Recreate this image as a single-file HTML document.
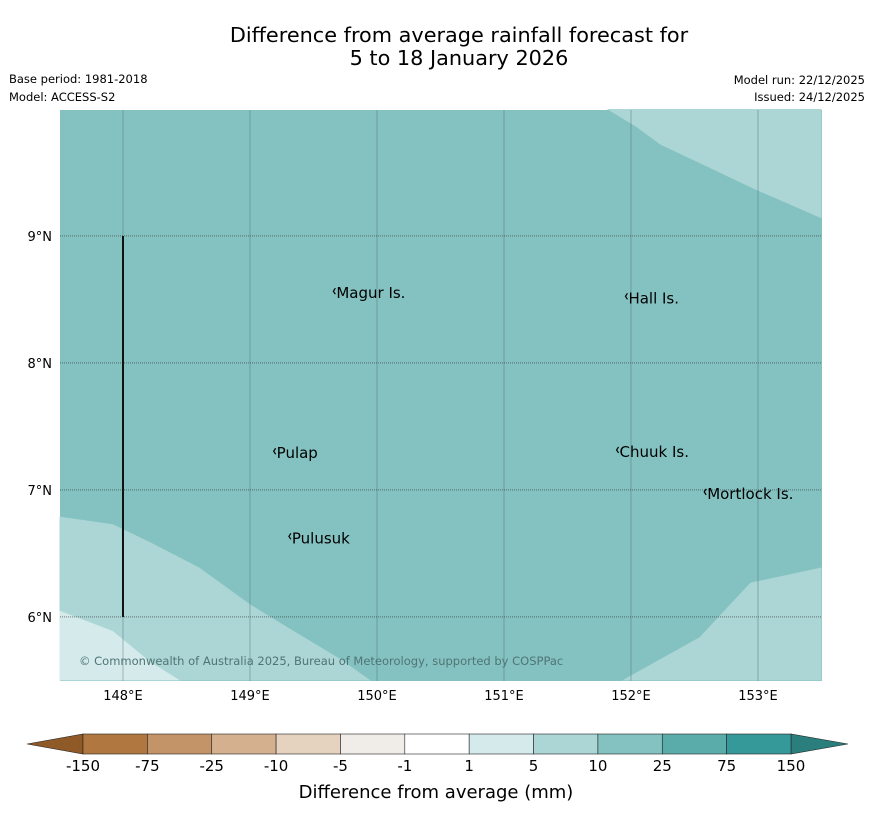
<!DOCTYPE html>
<html><head><meta charset="utf-8"><style>
body{margin:0;background:#fff;font-family:"Liberation Sans","DejaVu Sans",sans-serif;}
svg text{font-family:"DejaVu Sans","Liberation Sans",sans-serif;}
</style></head><body>
<svg id="c" width="873" height="816" viewBox="0 0 873 816" xmlns="http://www.w3.org/2000/svg">
<rect width="873" height="816" fill="#fff"/>
<text x="459" y="42" text-anchor="middle" font-size="20.8">Difference from average rainfall forecast for</text>
<text x="459" y="65" text-anchor="middle" font-size="20.8">5 to 18 January 2026</text>
<text x="9" y="83" font-size="11.5">Base period: 1981-2018</text>
<text x="9" y="101" font-size="11.5">Model: ACCESS-S2</text>
<text x="865" y="84" font-size="11.5" text-anchor="end">Model run: 22/12/2025</text>
<text x="865" y="101" font-size="11.5" text-anchor="end">Issued: 24/12/2025</text>
<g id="map"></g>
<g id="cb"></g>
<text x="436" y="798" text-anchor="middle" font-size="18">Difference from average (mm)</text>
</svg>
<script>
const lonTicks=[148,149,150,151,152,153];
const latTicks=[9,8,7,6];
const places=["Magur Is.","Hall Is.","Pulap","Chuuk Is.","Mortlock Is.","Pulusuk"];
const placeLon=[149.68,151.98,149.21,151.91,152.6,149.33];
const placeLat=[8.51,8.47,7.25,7.26,6.93,6.58];
const cbLabels=["-150","-75","-25","-10","-5","-1","1","5","10","25","75","150"];
const cbColors=["#b07840","#c29468","#d4b08f","#e5d2bf","#f0ece7","#ffffff","#d5eaea","#acd5d5","#84c2c1","#5aacaa","#35999a"];
const zoneLowLeft=[[147.5,6.79],[147.92,6.73],[148.21,6.59],[148.6,6.39],[149,6.1],[149.31,5.91],[149.71,5.67],[149.95,5.5],[147.5,5.5]];
const zoneLowest=[[147.5,6.05],[147.92,5.89],[148.21,5.65],[148.45,5.5],[147.5,5.5]];
const zoneTopRight=[[151.81,10],[152.04,9.86],[152.23,9.72],[152.57,9.56],[152.97,9.37],[153.5,9.14],[153.5,10]];
const zoneBotRight=[[151.93,5.5],[152.54,5.84],[152.94,6.27],[153.5,6.39],[153.5,5.5]];
const NS="http://www.w3.org/2000/svg";
const X0=60,X1=822,Y0=110,Y1=681,LON0=147.504,LAT0=9.992,K=127;
const xs=l=>X0+(l-LON0)*K, ys=l=>Y0+(LAT0-l)*K;
function mk(t,a,p){const e=document.createElementNS(NS,t);for(const k in a)e.setAttribute(k,a[k]);p.appendChild(e);return e;}
const map=document.getElementById('map');
const bg=mk('rect',{x:X0,y:Y0,width:X1-X0,height:Y1-Y0,fill:'#84c2c1'},map);


function zone(pts,col,name){const p=mk('polygon',{points:pts.map(q=>xs(q[0])+','+ys(q[1])).join(' '),fill:col},map);

}
zone(zoneLowLeft,'#acd5d5','zone-5-10-southwest');
zone(zoneLowest,'#d5eaea','zone-1-5-southwest');
zone(zoneTopRight,'#acd5d5','zone-5-10-northeast');
zone(zoneBotRight,'#acd5d5','zone-5-10-southeast');
lonTicks.forEach(l=>{const x=xs(l);
const g=mk('line',{x1:x,x2:x,y1:Y0,y2:Y1,stroke:'#4a6a6a','stroke-width':0.6,'stroke-opacity':0.7},map);


const t=mk('text',{x:x,y:700,'text-anchor':'middle','font-size':13},map);t.textContent=l+'°E';

});
latTicks.forEach(l=>{const y=ys(l);
const g=mk('line',{x1:X0,x2:X1,y1:y,y2:y,stroke:'#333','stroke-width':0.6,'stroke-dasharray':'1,1'},map);


const t=mk('text',{x:52,y:y+5,'text-anchor':'end','font-size':13},map);t.textContent=l+'°N';

});
const bl=mk('line',{x1:xs(148),x2:xs(148),y1:ys(9),y2:ys(6),stroke:'#111','stroke-width':2},map);


places.forEach((n,i)=>{const x=xs(placeLon[i]),y=ys(placeLat[i]);
const d=mk('path',{d:`M${x-1} ${y-10} l-2 3 l2 3`,stroke:'#000',fill:'none','stroke-width':1.2},map);


const t=mk('text',{x:x,y:y,'font-size':15},map);t.textContent=n;

});
const cr=mk('text',{x:79,y:665,'font-size':11.5,fill:'#4f7574'},map);cr.textContent='© Commonwealth of Australia 2025, Bureau of Meteorology, supported by COSPPac';


const cb=document.getElementById('cb');
const CB0=83,CB1=791,CBY=734,CBH=20,w=(CB1-CB0)/cbColors.length;
const lt=mk('polygon',{points:`27,744 ${CB0},${CBY} ${CB0},${CBY+CBH}`,fill:'#8f5a27',stroke:'#222','stroke-width':0.6},cb);


const rt=mk('polygon',{points:`848,744 ${CB1},${CBY} ${CB1},${CBY+CBH}`,fill:'#2a7f7c',stroke:'#222','stroke-width':0.6},cb);


cbColors.forEach((c,i)=>{const r=mk('rect',{x:CB0+i*w,y:CBY,width:w,height:CBH,fill:c,stroke:'#222','stroke-width':0.6},cb);

});
cbLabels.forEach((s,i)=>{const t=mk('text',{x:CB0+i*w,y:771,'text-anchor':'middle','font-size':15},cb);t.textContent=s;

});
</script>
</body></html>
